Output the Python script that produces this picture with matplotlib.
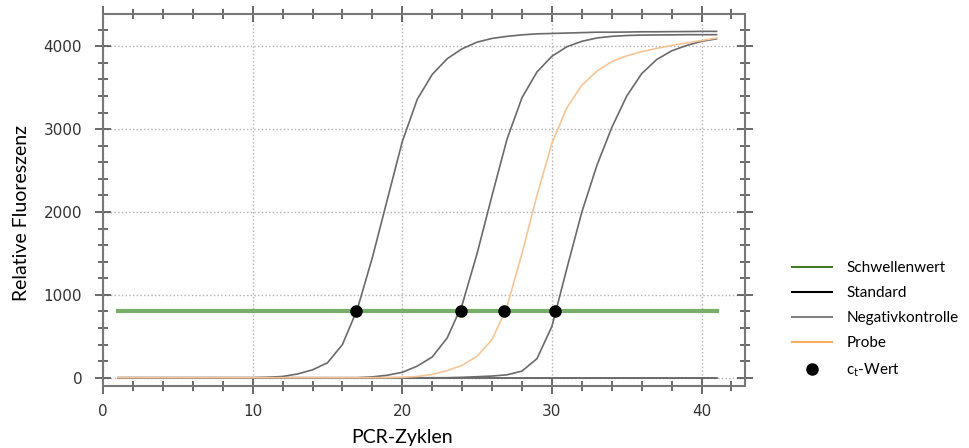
import matplotlib.pyplot as plt
from matplotlib.lines import Line2D
from matplotlib.ticker import MultipleLocator

# PCR cycles 1..41, fluorescence
cycles = list(range(1, 42))
curve_a = [0] * 10 + [5, 15, 45, 95, 180, 400, 830, 1450, 2150, 2850,
                      3360, 3660, 3850, 3970, 4050, 4095, 4120, 4138, 4150, 4155,
                      4160, 4165, 4170, 4170, 4172, 4175, 4175, 4177, 4178, 4180, 4180]
curve_b = [0] * 17 + [10, 30, 65, 140, 250, 480, 880, 1500, 2200, 2880,
                      3380, 3690, 3880, 3995, 4060, 4100, 4120, 4130, 4135, 4137,
                      4138, 4140, 4140, 4140]
probe = [0] * 19 + [5, 15, 40, 85, 150, 260, 460, 860, 1500, 2200,
                    2830, 3260, 3530, 3700, 3815, 3885, 3935, 3975, 4010, 4040,
                    4070, 4100]
curve_c = [0] * 23 + [5, 12, 20, 35, 80, 230, 620, 1320, 2000, 2560,
                      3020, 3400, 3670, 3840, 3945, 4010, 4060, 4090]
negative = [0] * 41

threshold = 800
ct_values = [16.9, 23.9, 26.8, 30.2]

legend_labels = ['Schwellenwert', 'Standard', 'Negativkontrolle', 'Probe', 'c$_\\mathrm{t}$-Wert']

plt.rcParams['mathtext.fontset'] = 'custom'
plt.rcParams['mathtext.rm'] = 'Lato'

fig = plt.figure(figsize=(9.69, 4.48), dpi=100)
ax = fig.add_axes([0.1063, 0.1384, 0.6625, 0.8304])

ax.plot(cycles, negative, color='#606060', lw=1.3)
ax.plot(cycles, [threshold] * len(cycles), color='#76ae6a', lw=3)
for c in (curve_a, curve_b, curve_c):
    ax.plot(cycles, c, color='#6a6a6a', lw=1.2)
ax.plot(cycles, probe, color='#f7c495', lw=1.2)
ax.plot(ct_values, [threshold] * len(ct_values), 'o', color='black', ms=8)

ax.set_xlim(0, 42.9)
ax.set_ylim(-100, 4390)
ax.xaxis.set_major_locator(MultipleLocator(10))
ax.xaxis.set_minor_locator(MultipleLocator(2))
ax.yaxis.set_major_locator(MultipleLocator(1000))
ax.yaxis.set_minor_locator(MultipleLocator(200))
ax.tick_params(which='both', direction='inout', top=True, right=True,
               colors='#505050', labelcolor='#333333', labelsize=11)
ax.tick_params(which='major', length=12, width=1.2)
ax.tick_params(which='minor', length=7, width=1.2)
ax.tick_params(axis='y', which='major', pad=9)
ax.tick_params(axis='x', which='major', pad=7)
for s in ax.spines.values():
    s.set_color('#777777')
    s.set_linewidth(1.5)
ax.grid(True, which='major', linestyle=':', color='#b0b0b0', lw=1)

ax.set_xlabel('PCR-Zyklen', family='Lato', fontsize=14)
ax.set_ylabel('Relative Fluoreszenz', family='Lato', fontsize=14)
ax.xaxis.set_label_coords(0.466, -0.115)
ax.yaxis.set_label_coords(-0.113, 0.465)

handles = [Line2D([], [], color='#3f7f22', lw=1.5),
           Line2D([], [], color='black', lw=1.5),
           Line2D([], [], color='#808080', lw=1.5),
           Line2D([], [], color='#f8ad5e', lw=1.5),
           Line2D([], [], color='black', marker='o', ls='none', ms=8)]
fig.legend(handles, legend_labels, loc='upper left', bbox_to_anchor=(0.8173, 0.4175),
           frameon=False, prop={'family': 'Lato', 'size': 11},
           handlelength=2.6, handletextpad=0.95, labelspacing=0.72,
           borderpad=0, borderaxespad=0)

fig.savefig('out.png', dpi=100)
